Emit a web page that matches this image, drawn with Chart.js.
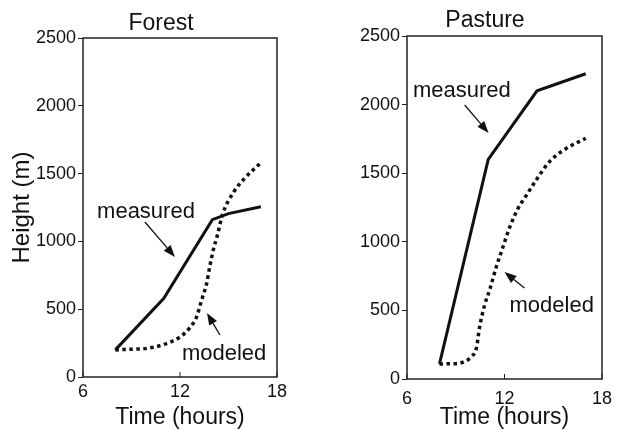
<!DOCTYPE html>
<html>
<head>
<meta charset="utf-8">
<script src="https://cdn.jsdelivr.net/npm/chart.js@4.4.0/dist/chart.umd.min.js"></script>
<style>
  html, body { margin: 0; padding: 0; background: #fff; }
  #wrap { position: relative; width: 626px; height: 430px; overflow: hidden; }
  .panel { position: absolute; top: 0; width: 313px; height: 430px; }
</style>
</head>
<body>
<div id="wrap">
  <div class="panel" style="left:0"><canvas id="chartForest" width="313" height="430"></canvas></div>
  <div class="panel" style="left:313px"><canvas id="chartPasture" width="313" height="430"></canvas></div>
</div>
<script>
/* --------------------------
   DATA
--------------------------- */
const timeTicks   = [6, 12, 18];
const heightTicks = [0, 500, 1000, 1500, 2000, 2500];

const forestMeasuredTime   = [8, 11, 14, 15, 17];
const forestMeasuredHeight = [200, 580, 1160, 1205, 1255];
const forestModeledTime    = [8, 9, 10, 11, 12, 12.6, 13.03, 13.34, 13.65, 13.85, 14.06, 14.3, 14.65, 15.3, 16, 17];
const forestModeledHeight  = [200, 205, 212, 240, 295, 362, 445, 568, 691, 820, 937, 1040, 1205, 1360, 1465, 1580];

const pastureMeasuredTime   = [8, 11, 14, 17];
const pastureMeasuredHeight = [110, 1600, 2100, 2225];
const pastureModeledTime    = [8, 9, 9.6, 9.96, 10.27, 10.47, 10.78, 11.1, 11.5, 11.9, 12.3, 12.82, 13.3, 13.95, 14.76, 15.6, 17];
const pastureModeledHeight  = [110, 112, 130, 163, 225, 380, 540, 655, 820, 960, 1100, 1240, 1330, 1450, 1583, 1665, 1755];

// label anchors in data units (time, height)
const forestNotes = [
    { text: "measured", x: 6.87, y: 1173, tailX: 9.83, tailY: 1143, tipX: 11.69, tipY: 885 },
    { text: "modeled",  x: 12.12, y: 125, tailX: 14.47, tailY: 310, tipX: 13.67, tipY: 472 }
];
const pastureNotes = [
    { text: "measured", x: 6.37, y: 2055, tailX: 9.55, tailY: 1997, tipX: 11.02, tipY: 1793 },
    { text: "modeled",  x: 12.31, y: 488, tailX: 13.23, tailY: 663, tipX: 12.0, tipY: 780 }
];

const INK = "#111";
const FONT = "'Liberation Sans', Arial, Helvetica, sans-serif";
Chart.defaults.font.family = FONT;
Chart.defaults.color = INK;

function toPoints(xs, ys){
    return xs.map(function(x, i){ return { x: x, y: ys[i] }; });
}

/* --------------------------
   FRAME, TITLE, NOTES
--------------------------- */
const panelDecor = {
    id: "panelDecor",
    afterDraw(chart, args, opts){
        const ctx = chart.ctx;
        const a = chart.chartArea;
        const xs = chart.scales.x, ys = chart.scales.y;
        ctx.save();

        // box
        ctx.strokeStyle = "#222";
        ctx.lineWidth = 1.5;
        ctx.strokeRect(a.left, a.top, a.right - a.left, a.bottom - a.top);

        // inward x ticks
        ctx.lineWidth = 1;
        timeTicks.forEach(function(v){
            const px = xs.getPixelForValue(v);
            ctx.beginPath();
            ctx.moveTo(px, a.bottom);
            ctx.lineTo(px, a.bottom - 5);
            ctx.stroke();
        });

        // panel title
        ctx.fillStyle = INK;
        ctx.font = "23px " + FONT;
        ctx.textAlign = "center";
        ctx.textBaseline = "alphabetic";
        ctx.fillText(opts.title, a.left + 78, opts.titleBase);

        // notes + arrows
        ctx.font = "22px " + FONT;
        ctx.textAlign = "left";
        opts.notes.forEach(function(n){
            ctx.fillText(n.text, xs.getPixelForValue(n.x), ys.getPixelForValue(n.y));
            const x0 = xs.getPixelForValue(n.tailX), y0 = ys.getPixelForValue(n.tailY);
            const x1 = xs.getPixelForValue(n.tipX),  y1 = ys.getPixelForValue(n.tipY);
            const ang = Math.atan2(y1 - y0, x1 - x0);
            const len = 12, half = 4.5;
            const bx = x1 - len * Math.cos(ang), by = y1 - len * Math.sin(ang);
            ctx.strokeStyle = INK;
            ctx.lineWidth = 1.3;
            ctx.beginPath();
            ctx.moveTo(x0, y0);
            ctx.lineTo(bx, by);
            ctx.stroke();
            ctx.beginPath();
            ctx.moveTo(x1, y1);
            ctx.lineTo(bx + half * Math.sin(ang), by - half * Math.cos(ang));
            ctx.lineTo(bx - half * Math.sin(ang), by + half * Math.cos(ang));
            ctx.closePath();
            ctx.fill();
        });
        ctx.restore();
    }
};

/* --------------------------
   BUILD ONE PANEL
--------------------------- */
function buildPanel(canvasId, p){
    return new Chart(document.getElementById(canvasId), {
        type: "line",
        data: {
            datasets: [{
                label: "measured",
                data: toPoints(p.measuredTime, p.measuredHeight),
                borderColor: INK,
                borderWidth: 3,
                pointRadius: 0,
                tension: 0
            }, {
                label: "modeled",
                data: toPoints(p.modeledTime, p.modeledHeight),
                borderColor: INK,
                borderWidth: 3.5,
                borderDash: [3.5, 3.5],
                pointRadius: 0,
                cubicInterpolationMode: "monotone"
            }]
        },
        options: {
            responsive: false,
            animation: false,
            devicePixelRatio: 1,
            layout: { padding: p.padding },
            plugins: {
                legend: { display: false },
                tooltip: { enabled: false },
                panelDecor: { title: p.title, titleBase: p.titleBase, notes: p.notes }
            },
            scales: {
                x: {
                    type: "linear",
                    min: 6, max: 18,
                    afterBuildTicks: function(s){ s.ticks = timeTicks.map(function(v){ return { value: v }; }); },
                    afterFit: function(s){ s.height = p.xAxisHeight; },
                    grid: { drawOnChartArea: false, drawTicks: false },
                    border: { display: false },
                    ticks: { font: { size: 18 }, color: INK, padding: p.xTickPad, maxRotation: 0,
                             callback: function(v){ return String(v); } },
                    title: { display: true, text: "Time (hours)", font: { size: 23, lineHeight: 1 }, color: INK, padding: { top: 0, bottom: 1 } }
                },
                y: {
                    min: 0, max: 2500,
                    afterBuildTicks: function(s){ s.ticks = heightTicks.map(function(v){ return { value: v }; }); },
                    afterFit: function(s){ s.width = p.yAxisWidth; },
                    grid: { drawOnChartArea: false, drawTicks: true, tickLength: 5, color: "#222" },
                    border: { display: false },
                    ticks: { font: { size: 18 }, color: INK, padding: 2,
                             callback: function(v){ return String(v); } },
                    title: { display: p.showYTitle, text: "Height (m)", font: { size: 24 }, color: INK, padding: { top: 8, bottom: 0 } }
                }
            }
        },
        plugins: [panelDecor]
    });
}

buildPanel("chartForest", {
    title: "Forest", titleBase: 30,
    measuredTime: forestMeasuredTime, measuredHeight: forestMeasuredHeight,
    modeledTime: forestModeledTime, modeledHeight: forestModeledHeight,
    notes: forestNotes,
    padding: { left: 0, right: 36, top: 38, bottom: 0 },
    yAxisWidth: 83, xAxisHeight: 53, xTickPad: 4,
    showYTitle: true
});

buildPanel("chartPasture", {
    title: "Pasture", titleBase: 27,
    measuredTime: pastureMeasuredTime, measuredHeight: pastureMeasuredHeight,
    modeledTime: pastureModeledTime, modeledHeight: pastureModeledHeight,
    notes: pastureNotes,
    padding: { left: 0, right: 24, top: 36, bottom: 0 },
    yAxisWidth: 94, xAxisHeight: 51, xTickPad: 9,
    showYTitle: false
});
</script>
</body>
</html>
